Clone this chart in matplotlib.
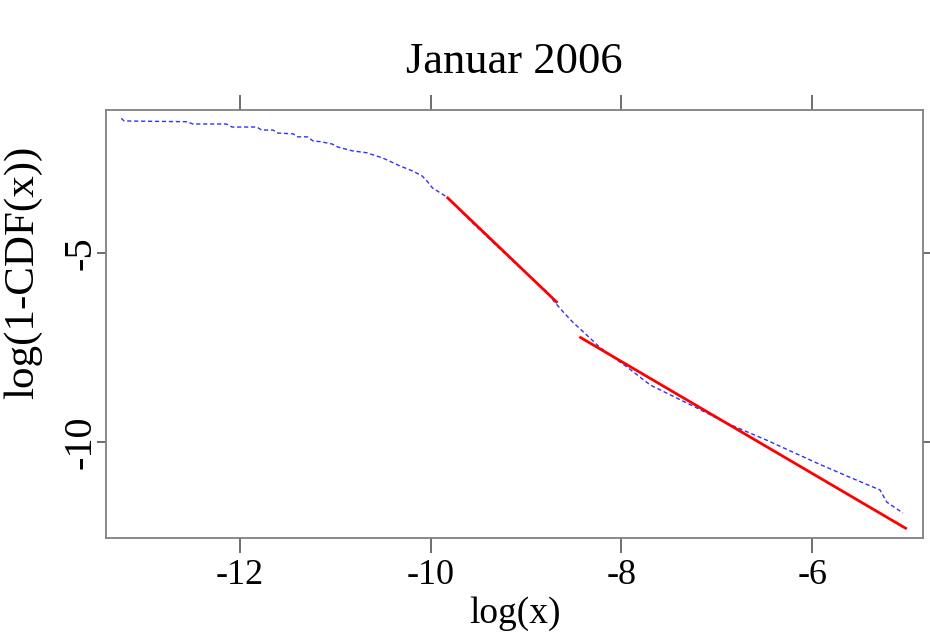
import matplotlib
matplotlib.use("Agg")
import matplotlib.pyplot as plt
import numpy as np

plt.rcParams['font.family'] = ['Liberation Serif', 'DejaVu Serif']

# empirical tail, log(x) vs log(1-CDF(x))
log_x = np.array([
    -13.24, -13.21, -12.55, -12.49, -12.14, -12.08, -11.82, -11.77, -11.65,
    -11.60, -11.44, -11.39, -11.29, -11.23, -11.14, -11.09, -11.03, -10.97,
    -10.82, -10.67, -10.50, -10.32, -10.19, -10.09, -10.03, -9.98, -9.83,
    -9.59, -9.35, -8.96, -8.78, -8.70, -8.61, -8.51, -8.42, -8.33, -8.23,
    -8.09, -7.94, -7.70, -7.21, -6.90, -6.48, -5.95, -5.61, -5.29, -5.22,
    -5.05])
log_sf = np.array([
    -1.44, -1.51, -1.53, -1.59, -1.59, -1.67, -1.67, -1.75, -1.75,
    -1.83, -1.85, -1.93, -1.93, -2.04, -2.06, -2.09, -2.12, -2.20,
    -2.30, -2.35, -2.49, -2.70, -2.83, -2.96, -3.12, -3.28, -3.52,
    -4.13, -4.71, -5.63, -6.03, -6.30, -6.56, -6.83, -7.04, -7.25, -7.49,
    -7.75, -8.02, -8.49, -9.10, -9.50, -9.95, -10.56, -10.93, -11.27, -11.59,
    -11.88])

# fitted segments (start / end)
fit1_x = [-9.83, -8.67]
fit1_y = [-3.52, -6.32]
fit2_x = [-8.44, -5.01]
fit2_y = [-7.22, -12.30]

xticks = [-12, -10, -8, -6]
yticks = [-5, -10]

fig = plt.figure(figsize=(9.3, 6.37), dpi=100)
ax = fig.add_axes([0.114, 0.1554, 0.8785, 0.6719])

ax.plot(log_x, log_sf, color='#3030ff', lw=1.0, ls=(0, (3, 2)))
ax.plot(fit1_x, fit1_y, color='red', lw=2.0, solid_capstyle='butt')
ax.plot(fit2_x, fit2_y, color='red', lw=2.0, solid_capstyle='butt')

ax.set_xlim(-13.40, -4.84)
ax.set_ylim(-12.54, -1.22)

for s in ax.spines.values():
    s.set_color('#808080')
    s.set_linewidth(1.3)

ax.set_xticks(xticks)
ax.set_xticklabels([str(t) for t in xticks])
ax.set_yticks(yticks)
ax.set_yticklabels([str(t) for t in yticks], rotation=90, va='center')
ax.tick_params(axis='x', direction='out', length=11, width=1.2, color='#555555',
               labelsize=26, pad=4, top=True, labeltop=False)
ax.tick_params(axis='y', direction='out', length=6.5, width=1.2, color='#555555',
               labelsize=29, pad=-2, right=True, labelright=False)

ax.set_title('Januar 2006', fontsize=32, pad=27)
ax.set_xlabel('log(x)', fontsize=27, labelpad=3)
ax.set_ylabel('log(1-CDF(x))', fontsize=31)
ax.yaxis.set_label_coords(-0.078, 0.62)

fig.savefig('out.png', dpi=100)
